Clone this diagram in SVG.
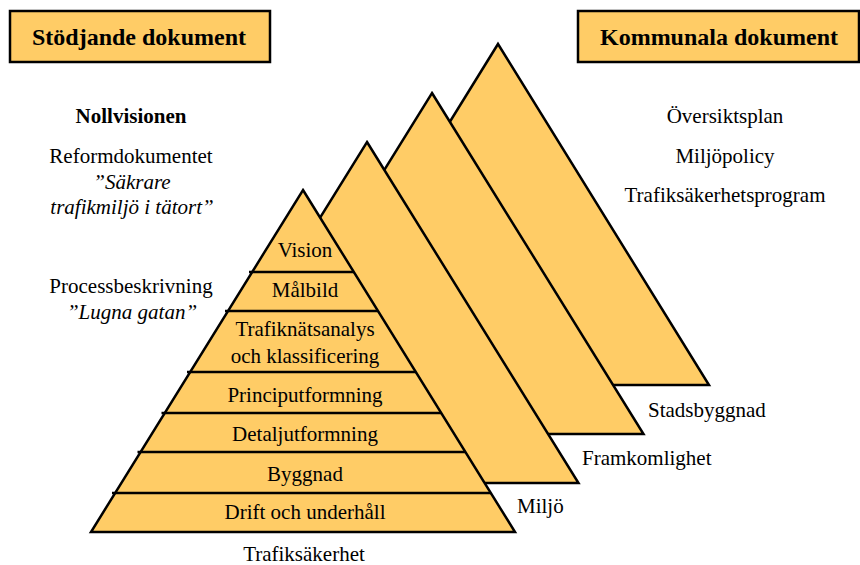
<svg xmlns="http://www.w3.org/2000/svg" width="860" height="565" viewBox="0 0 860 565" font-family="Liberation Serif, DejaVu Serif, serif">
<style>
.box{fill:#FFCC66;stroke:#000;stroke-width:2.5}
.tri{fill:#FFCC66;stroke:#000;stroke-width:2.5;stroke-linejoin:miter}
.ln{stroke:#000;stroke-width:2.5}
text{font-family:'Liberation Serif','DejaVu Serif',serif;font-size:21px;fill:#000}
.h{font-size:24px;font-weight:bold;text-anchor:middle}
.b{font-weight:bold}
.c{text-anchor:middle}
.i{font-style:italic}
</style>
<rect width="860" height="565" fill="#fff"/>
<g id="box-stodjande">
<rect class="box" x="10" y="11" width="260" height="51"/>
<text class="h" x="139" y="45">Stödjande dokument</text>
</g>
<g id="box-kommunala">
<rect class="box" x="578" y="11" width="281" height="51"/>
<text class="h" x="719" y="45">Kommunala dokument</text>
</g>
<g id="left-docs">
<text class="c b" x="131" y="123">Nollvisionen</text>
<text class="c" x="131" y="163">Reformdokumentet</text>
<text class="c i" x="132" y="189">”Säkrare</text>
<text class="c i" x="132" y="214">trafikmiljö i tätort”</text>
<text class="c" x="131" y="293">Processbeskrivning</text>
<text class="c i" x="132" y="319">”Lugna gatan”</text>
</g>
<g id="right-docs">
<text class="c" x="725" y="123">Översiktsplan</text>
<text class="c" x="725" y="163">Miljöpolicy</text>
<text class="c" x="725" y="202">Trafiksäkerhetsprogram</text>
</g>
<g id="tri-stadsbyggnad">
<polygon class="tri" points="498,44 709,385 287,385"/>
<text x="648" y="417">Stadsbyggnad</text>
</g>
<g id="tri-framkomlighet">
<polygon class="tri" points="432,93 643.5,434 220.5,434"/>
<text x="582" y="465">Framkomlighet</text>
</g>
<g id="tri-miljo">
<polygon class="tri" points="367,142 578.5,483 155.5,483"/>
<text x="517" y="513">Miljö</text>
</g>
<g id="tri-trafiksakerhet">
<polygon class="tri" points="303,190 515,532 91,532"/>
<text class="c" x="304" y="561">Trafiksäkerhet</text>
</g>
<g id="layers">
<line class="ln" x1="249" y1="272" x2="354" y2="272"/>
<line class="ln" x1="225" y1="311" x2="378" y2="311"/>
<line class="ln" x1="187" y1="372" x2="416" y2="372"/>
<line class="ln" x1="161.5" y1="413" x2="441" y2="413"/>
<line class="ln" x1="137.5" y1="452" x2="465" y2="452"/>
<line class="ln" x1="112" y1="493" x2="491" y2="493"/>
</g>
<g id="layer-labels">
<text class="c" x="305" y="257">Vision</text>
<text class="c" x="305" y="297">Målbild</text>
<text class="c" x="305" y="336">Trafiknätsanalys</text>
<text class="c" x="305" y="363">och klassificering</text>
<text class="c" x="305" y="402">Principutformning</text>
<text class="c" x="305" y="441">Detaljutformning</text>
<text class="c" x="305" y="481">Byggnad</text>
<text class="c" x="305" y="519">Drift och underhåll</text>
</g>
</svg>
